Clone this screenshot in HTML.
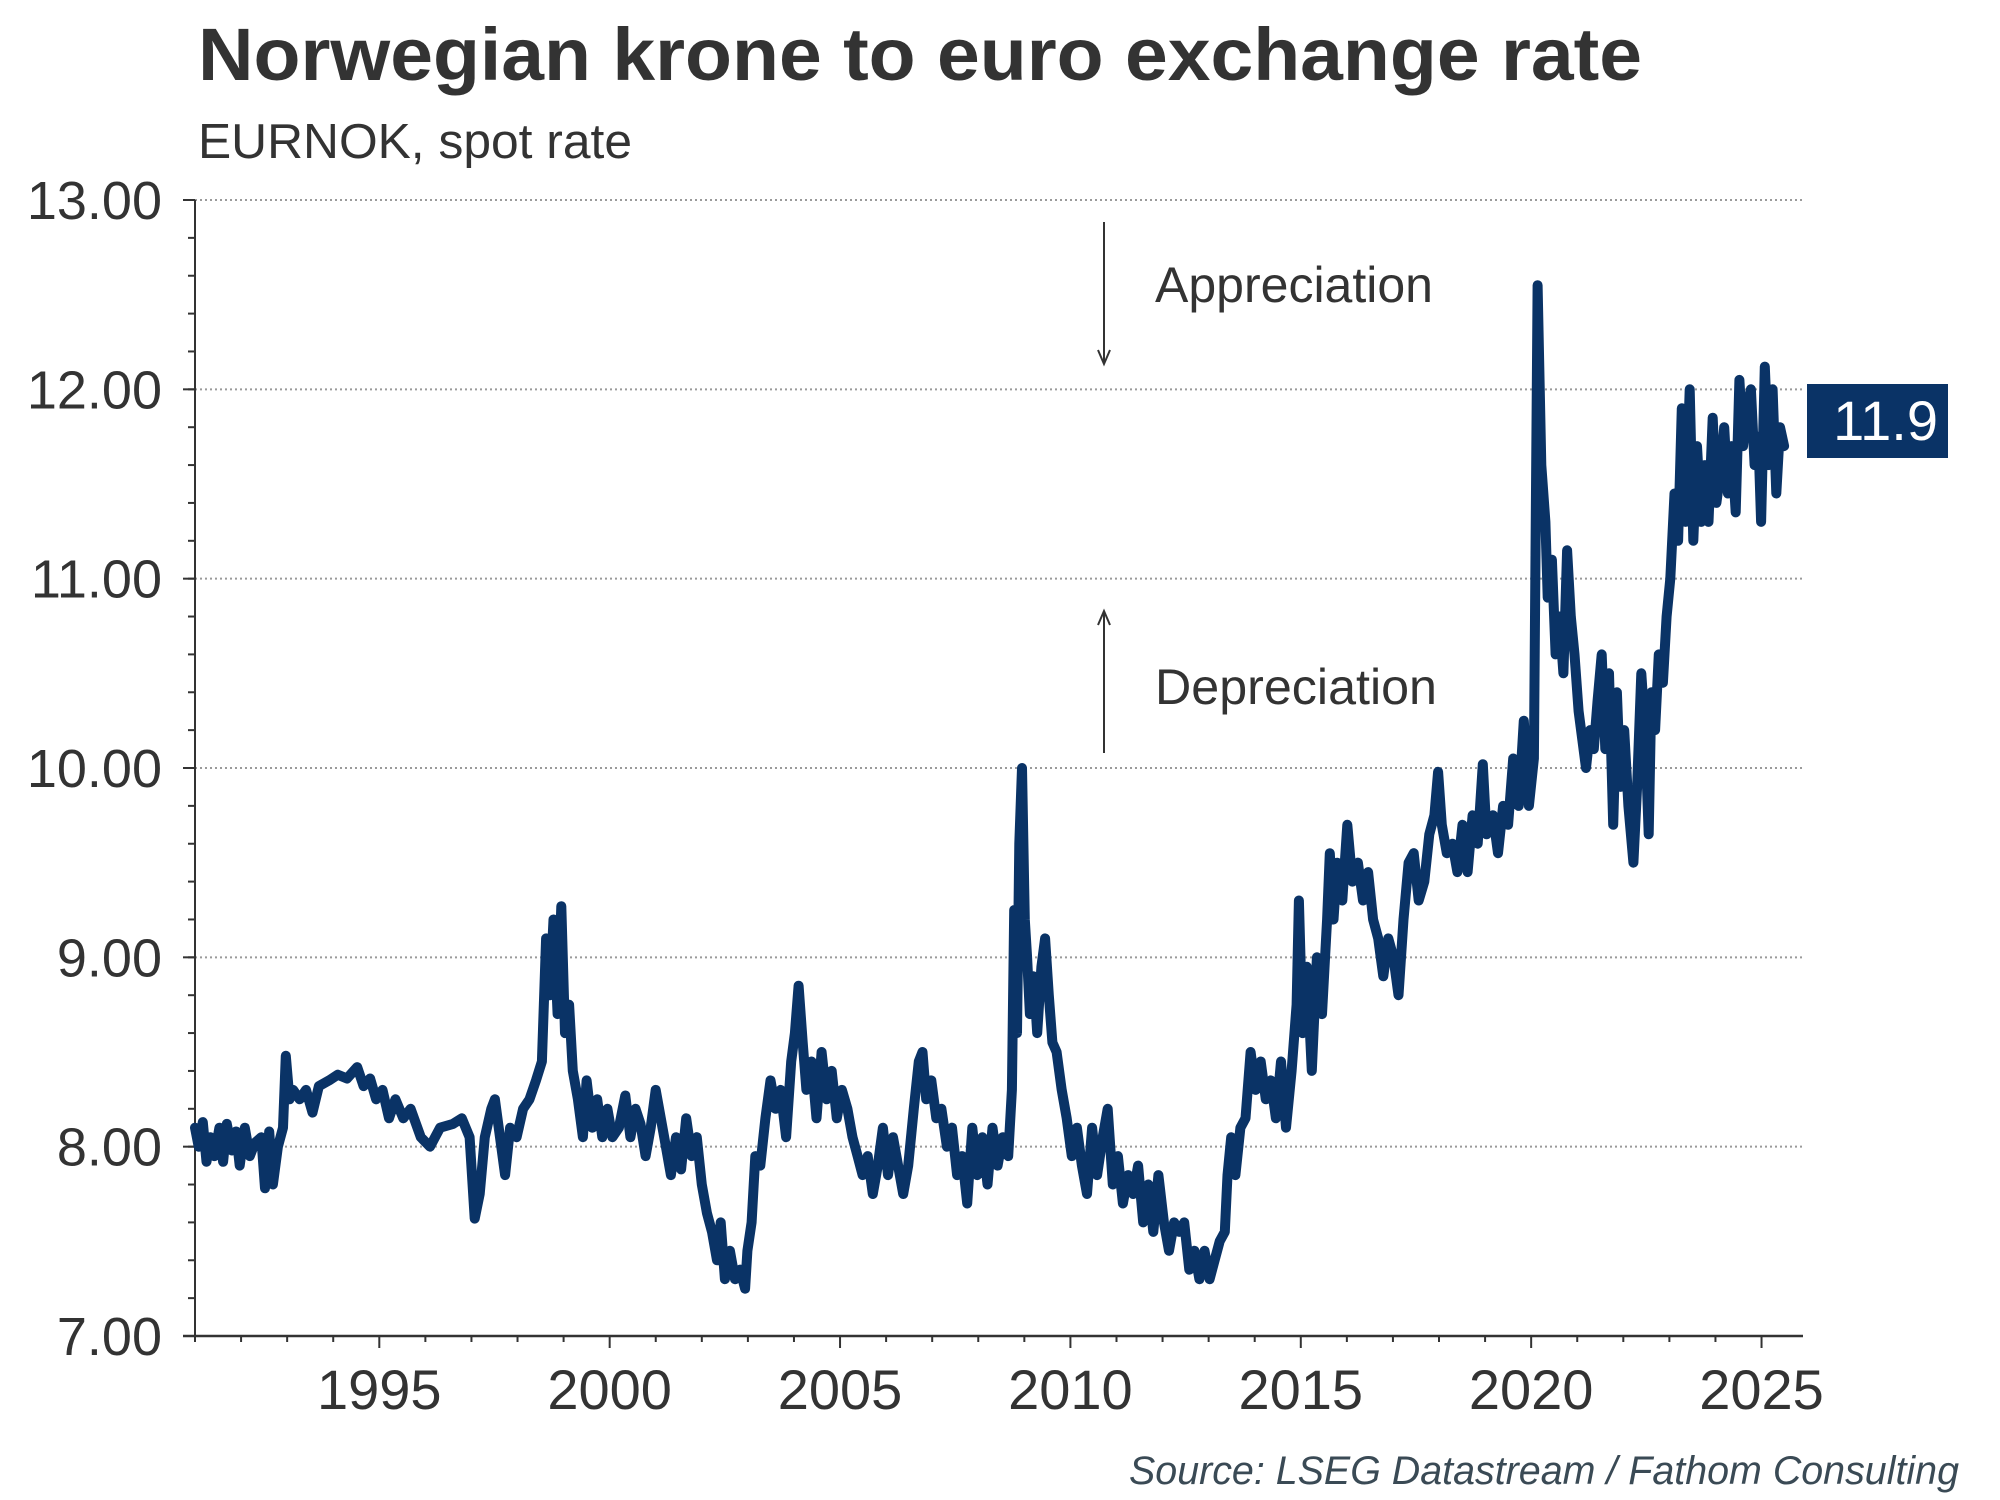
<!DOCTYPE html>
<html><head><meta charset="utf-8"><style>
body{margin:0;background:#fff}
svg{display:block;font-family:"Liberation Sans",Arial,sans-serif}
</style></head><body>
<svg id="chart" width="2000" height="1500" viewBox="0 0 2000 1500" xmlns="http://www.w3.org/2000/svg">
<text x="198" y="80" font-size="74" font-weight="bold" fill="#333" textLength="1444" lengthAdjust="spacingAndGlyphs">Norwegian krone to euro exchange rate</text>
<text x="198" y="158" font-size="49" fill="#333" textLength="434" lengthAdjust="spacingAndGlyphs">EURNOK, spot rate</text>
<g id="grid"></g>
<g id="axes"></g>
<g id="series"></g>
<line x1="1104" y1="222" x2="1104" y2="362" stroke="#333" stroke-width="2"/>
<path d="M1098 350 L1104 364 L1110 350" fill="none" stroke="#333" stroke-width="2"/>
<text x="1155" y="302" font-size="50" fill="#333" textLength="278" lengthAdjust="spacingAndGlyphs">Appreciation</text>
<line x1="1104" y1="753" x2="1104" y2="613" stroke="#333" stroke-width="2"/>
<path d="M1098 625 L1104 611 L1110 625" fill="none" stroke="#333" stroke-width="2"/>
<text x="1155" y="704" font-size="50" fill="#333" textLength="282" lengthAdjust="spacingAndGlyphs">Depreciation</text>
<rect x="1807" y="384" width="141" height="74" fill="#0a3366"/>
<text x="1938" y="440" font-size="56" fill="#fff" text-anchor="end">11.9</text>
<text x="1959" y="1484" font-size="40" font-style="italic" fill="#3a4a55" text-anchor="end" textLength="830" lengthAdjust="spacingAndGlyphs">Source: LSEG Datastream / Fathom Consulting</text>
</svg>
<script>
const dates=[1991.00,1991.08,1991.17,1991.25,1991.33,1991.42,1991.53,1991.61,1991.69,1991.80,1991.89,1991.97,1992.08,1992.19,1992.30,1992.44,1992.52,1992.61,1992.69,1992.80,1992.91,1992.97,1993.05,1993.13,1993.27,1993.41,1993.55,1993.69,1993.91,1994.10,1994.30,1994.52,1994.66,1994.80,1994.93,1995.07,1995.21,1995.35,1995.52,1995.68,1995.90,1996.10,1996.32,1996.60,1996.79,1996.96,1997.07,1997.18,1997.29,1997.43,1997.51,1997.62,1997.73,1997.84,1997.98,1998.12,1998.26,1998.40,1998.53,1998.62,1998.70,1998.78,1998.87,1998.95,1999.03,1999.12,1999.20,1999.31,1999.42,1999.50,1999.62,1999.73,1999.84,1999.95,2000.06,2000.20,2000.34,2000.45,2000.56,2000.67,2000.78,2000.89,2001.00,2001.11,2001.22,2001.33,2001.44,2001.55,2001.66,2001.78,2001.89,2002.00,2002.11,2002.22,2002.33,2002.41,2002.50,2002.61,2002.72,2002.83,2002.94,2002.99,2003.08,2003.16,2003.27,2003.38,2003.49,2003.60,2003.71,2003.83,2003.94,2004.02,2004.10,2004.19,2004.27,2004.38,2004.49,2004.60,2004.71,2004.82,2004.93,2005.04,2005.16,2005.27,2005.38,2005.49,2005.60,2005.71,2005.82,2005.93,2006.04,2006.15,2006.26,2006.37,2006.48,2006.60,2006.71,2006.79,2006.87,2006.98,2007.09,2007.20,2007.32,2007.43,2007.54,2007.65,2007.76,2007.87,2007.98,2008.09,2008.20,2008.31,2008.42,2008.53,2008.65,2008.73,2008.78,2008.84,2008.89,2008.95,2009.01,2009.06,2009.12,2009.20,2009.28,2009.37,2009.45,2009.53,2009.61,2009.70,2009.81,2009.92,2010.03,2010.14,2010.25,2010.36,2010.47,2010.58,2010.70,2010.81,2010.92,2011.03,2011.14,2011.25,2011.36,2011.47,2011.58,2011.69,2011.80,2011.91,2012.03,2012.14,2012.25,2012.36,2012.47,2012.58,2012.69,2012.80,2012.91,2013.02,2013.13,2013.24,2013.35,2013.41,2013.49,2013.58,2013.69,2013.80,2013.91,2014.02,2014.13,2014.24,2014.35,2014.46,2014.57,2014.68,2014.80,2014.91,2014.96,2015.04,2015.13,2015.24,2015.35,2015.46,2015.57,2015.63,2015.71,2015.79,2015.90,2016.01,2016.12,2016.24,2016.35,2016.46,2016.57,2016.68,2016.79,2016.90,2017.01,2017.12,2017.23,2017.34,2017.45,2017.56,2017.68,2017.79,2017.90,2017.98,2018.06,2018.17,2018.29,2018.40,2018.51,2018.62,2018.73,2018.84,2018.95,2019.03,2019.17,2019.28,2019.39,2019.50,2019.61,2019.73,2019.84,2019.95,2020.06,2020.14,2020.22,2020.31,2020.36,2020.45,2020.53,2020.61,2020.70,2020.78,2020.86,2020.94,2021.03,2021.11,2021.19,2021.28,2021.36,2021.44,2021.53,2021.61,2021.69,2021.78,2021.86,2021.94,2022.02,2022.11,2022.22,2022.30,2022.39,2022.47,2022.55,2022.61,2022.69,2022.77,2022.86,2022.94,2023.02,2023.11,2023.19,2023.27,2023.35,2023.44,2023.52,2023.60,2023.69,2023.77,2023.85,2023.94,2024.02,2024.10,2024.19,2024.27,2024.35,2024.44,2024.52,2024.60,2024.68,2024.77,2024.85,2024.93,2024.99,2025.07,2025.16,2025.24,2025.32,2025.40,2025.49];
const rates=[8.10,8.0,8.13,7.92,8.05,7.95,8.1,7.92,8.12,7.98,8.08,7.9,8.1,7.95,8.02,8.05,7.78,8.08,7.8,8.0,8.1,8.48,8.25,8.3,8.25,8.3,8.18,8.32,8.35,8.38,8.36,8.42,8.32,8.36,8.25,8.3,8.15,8.25,8.15,8.2,8.05,8.0,8.1,8.12,8.15,8.05,7.62,7.75,8.05,8.2,8.25,8.05,7.85,8.1,8.05,8.2,8.25,8.35,8.45,9.1,8.8,9.2,8.7,9.27,8.6,8.75,8.4,8.25,8.05,8.35,8.1,8.25,8.05,8.2,8.05,8.1,8.27,8.05,8.2,8.12,7.95,8.1,8.3,8.15,8.0,7.85,8.05,7.88,8.15,7.95,8.05,7.8,7.65,7.55,7.4,7.6,7.3,7.45,7.3,7.35,7.25,7.45,7.6,7.95,7.9,8.15,8.35,8.2,8.3,8.05,8.45,8.6,8.85,8.55,8.3,8.45,8.15,8.5,8.25,8.4,8.15,8.3,8.2,8.05,7.95,7.85,7.95,7.75,7.9,8.1,7.85,8.05,7.9,7.75,7.9,8.2,8.45,8.5,8.25,8.35,8.15,8.2,8.0,8.1,7.85,7.95,7.7,8.1,7.85,8.05,7.8,8.1,7.9,8.05,7.95,8.3,9.25,8.6,9.6,10.0,9.2,9.0,8.7,8.9,8.6,8.95,9.1,8.8,8.55,8.5,8.3,8.15,7.95,8.1,7.9,7.75,8.1,7.85,8.05,8.2,7.8,7.95,7.7,7.85,7.75,7.9,7.6,7.8,7.55,7.85,7.6,7.45,7.6,7.55,7.6,7.35,7.45,7.3,7.45,7.3,7.4,7.5,7.55,7.85,8.05,7.85,8.1,8.15,8.5,8.3,8.45,8.25,8.35,8.15,8.45,8.1,8.4,8.75,9.3,8.6,8.95,8.4,9.0,8.7,9.2,9.55,9.2,9.5,9.3,9.7,9.4,9.5,9.3,9.45,9.2,9.1,8.9,9.1,9.0,8.8,9.2,9.5,9.55,9.3,9.4,9.65,9.75,9.98,9.7,9.55,9.6,9.45,9.7,9.45,9.75,9.6,10.02,9.65,9.75,9.55,9.8,9.7,10.05,9.8,10.25,9.8,10.05,12.55,11.6,11.3,10.9,11.1,10.6,10.8,10.5,11.15,10.8,10.6,10.3,10.15,10.0,10.2,10.1,10.35,10.6,10.1,10.5,9.7,10.4,9.9,10.2,9.8,9.5,9.9,10.5,10.2,9.65,10.4,10.2,10.6,10.45,10.8,11.0,11.45,11.2,11.9,11.3,12.0,11.2,11.7,11.3,11.6,11.3,11.85,11.4,11.55,11.8,11.45,11.7,11.35,12.05,11.7,11.9,12.0,11.6,11.75,11.3,12.12,11.6,12.0,11.45,11.8,11.7];
const yTicks=[7,8,9,10,11,12,13];
const yTickLabels=["7.00","8.00","9.00","10.00","11.00","12.00","13.00"];
const xTicks=[1995,2000,2005,2010,2015,2020,2025];
const xTickLabels=["1995","2000","2005","2010","2015","2020","2025"];

const NS="http://www.w3.org/2000/svg";
const L=195,R=1803,T=200,B=1336,X0=1991,X1=2025.9,Y0=7,Y1=13;
const xs=v=>L+(v-X0)/(X1-X0)*(R-L);
const ys=v=>B-(v-Y0)/(Y1-Y0)*(B-T);
function mk(tag,attrs,parent){const e=document.createElementNS(NS,tag);for(const k in attrs)e.setAttribute(k,attrs[k]);parent.appendChild(e);return e;}
const grid=document.getElementById('grid'),axes=document.getElementById('axes'),series=document.getElementById('series');

yTicks.forEach((t,i)=>{
  if(t>Y0){const g=mk('line',{x1:L,x2:R,y1:ys(t),y2:ys(t),stroke:'#9a9a9a','stroke-width':2,'stroke-dasharray':'2 3'},grid);
  
  }
  const tk=mk('line',{x1:L-12,x2:L,y1:ys(t),y2:ys(t),stroke:'#333','stroke-width':2},axes);
  
  
  const lb=mk('text',{x:162,y:ys(t)+19,'font-size':54,fill:'#333','text-anchor':'end'},axes);
  lb.textContent=yTickLabels[i];
  
  
});
for(let v=Y0;v<Y1-0.01;v+=0.2){
  const m=mk('line',{x1:L-7,x2:L,y1:ys(v),y2:ys(v),stroke:'#333','stroke-width':2},axes);
  
  
}
for(let yr=1991;yr<=2025;yr++){
  const major=xTicks.indexOf(yr)>=0;
  const m=mk('line',{x1:xs(yr),x2:xs(yr),y1:B,y2:B+(major?12:6),stroke:'#333','stroke-width':2},axes);
  
  
}
xTicks.forEach((t,i)=>{
  const lb=mk('text',{x:xs(t),y:1409,'font-size':56,fill:'#333','text-anchor':'middle'},axes);
  lb.textContent=xTickLabels[i];
  
  
});
const ya=mk('line',{x1:L,x2:L,y1:T,y2:B,stroke:'#333','stroke-width':2},axes);


const xa=mk('line',{x1:L-12,x2:R,y1:B,y2:B,stroke:'#333','stroke-width':2.5},axes);



const d=dates.map((t,i)=>(i?'L':'M')+xs(t).toFixed(1)+' '+ys(rates[i]).toFixed(1)).join(' ');
const p=mk('path',{d:d,fill:'none',stroke:'#0a3366','stroke-width':10,'stroke-linejoin':'round','stroke-linecap':'round'},series);


</script>
</body></html>
